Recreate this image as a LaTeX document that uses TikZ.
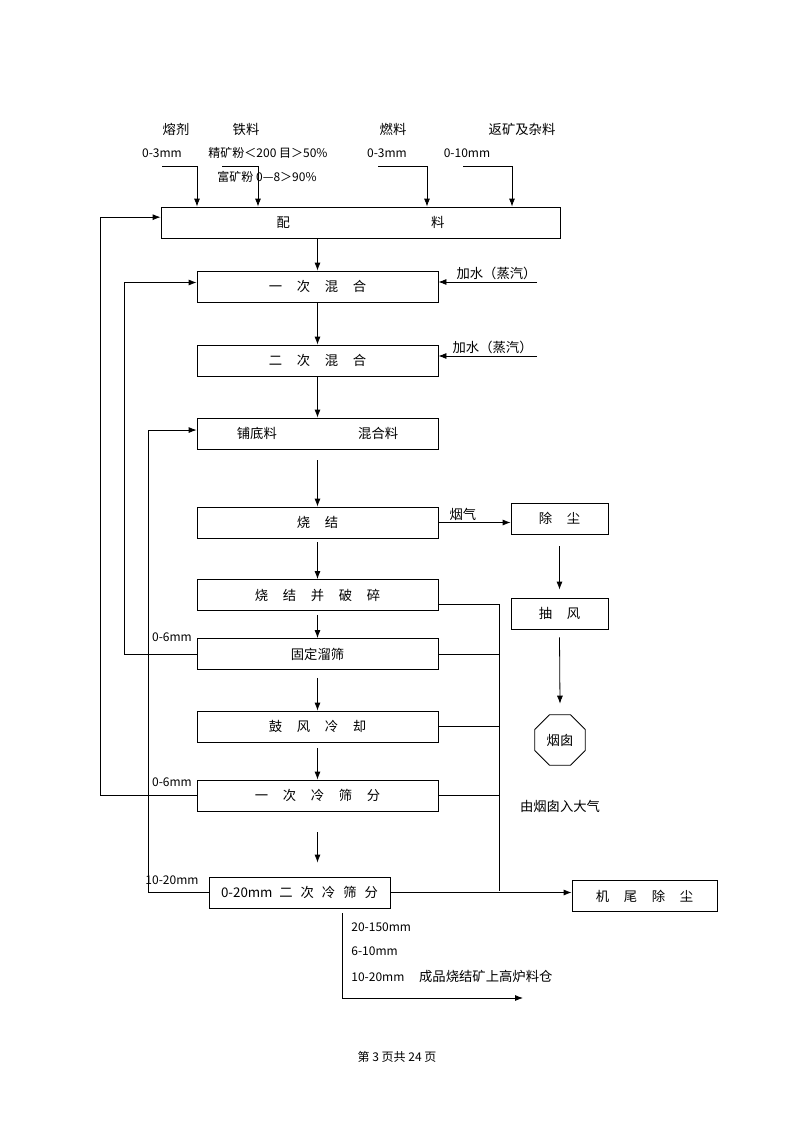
\documentclass[tikz,border=0pt]{standalone}
\usepackage{fontspec}
\setmainfont{Liberation Serif}
\newfontfamily\cjk{Noto Sans CJK SC}
\usetikzlibrary{calc, positioning, arrows, arrows.meta, shapes, shapes.geometric}
\newcommand{\kg}{\hspace{11pt}}

\begin{document}
\begin{tikzpicture}[x=0.75pt, y=-0.75pt, >={Latex[length=6pt, width=4.5pt]}, line width=0.6pt,
        font=\cjk\fontsize{10}{12}\selectfont,
        box/.style={draw, rectangle, minimum width=180.75pt, minimum height=23.25pt, inner sep=0pt},
        lbl/.style={inner sep=0pt, font=\cjk\fontsize{9}{11}\selectfont}]
        \useasboundingbox (0,0) rectangle (800,1132);

        % main column
        \node[box, minimum width=299.25pt] (PL) at (360.5,222.5) {配\hspace{106pt}料};
        \node[box] (H1) at (317.5,286.5) {一\kg 次\kg 混\kg 合};
        \node[box] (H2) at (317.5,360.5) {二\kg 次\kg 混\kg 合};
        \node[box] (PD) at (317.5,433.5) {铺底料\hspace{61pt}混合料};
        \node[box] (SJ) at (317.5,522.5) {烧\kg 结};
        \node[box] (PS) at (317.5,595) {烧\kg 结\kg 并\kg 破\kg 碎};
        \node[box] (GS) at (317.5,654) {固定溜筛};
        \node[box] (GF) at (317.5,726.5) {鼓\kg 风\kg 冷\kg 却};
        \node[box] (LS1) at (317.5,795.5) {一\kg 次\kg 冷\kg 筛\kg 分};
        \node[box, minimum width=135.75pt] (LS2) at (299.5,892.5) {0-20mm\hspace{5pt}二\hspace{6pt}次\hspace{6pt}冷\hspace{6pt}筛\hspace{6pt}分};

        % right side
        \node[box, minimum width=72.75pt] (CC) at (559.5,518.5) {除\kg 尘};
        \node[box, minimum width=72.75pt] (CF) at (559.5,613.5) {抽\kg 风};
        \node[draw, regular polygon, regular polygon sides=8, minimum size=41pt, inner sep=0pt] (YC) at (560,740) {烟囱};
        \node (DQ) at (560,806) {由烟囱入大气};
        \node[box, minimum width=108.75pt] (JW) at (644.5,896) {机\kg 尾\kg 除\kg 尘};

        % raw materials
        \node[lbl, font=\cjk\fontsize{10}{12}\selectfont] (RJ) at (176,129) {熔剂};
        \node[lbl, font=\cjk\fontsize{10}{12}\selectfont] (TL) at (246,129) {铁料};
        \node[lbl, font=\cjk\fontsize{10}{12}\selectfont] (RL) at (393,129) {燃料};
        \node[lbl, font=\cjk\fontsize{10}{12}\selectfont] (FK) at (522,129) {返矿及杂料};
        \node[lbl] (RJs) at (162,153) {0-3mm};
        \node[lbl] (TLs) at (268,153) {精矿粉＜200 目＞50\%};
        \node[lbl] (TLf) at (267,177) {富矿粉 0—8＞90\%};
        \node[lbl] (RLs) at (387,153) {0-3mm};
        \node[lbl] (FKs) at (467,153) {0-10mm};

        \coordinate (in1) at (162,166);
        \coordinate (in2) at (222,166);
        \coordinate (in3) at (378,166);
        \coordinate (in4) at (463,166);
        \draw[->] (in1) -| (PL.north -| 197,0);
        \draw[->] (in2) -| (PL.north -| 258,0);
        \draw[->] (in3) -| (PL.north -| 427,0);
        \draw[->] (in4) -| (PL.north -| 512,0);

        % main flow
        \draw (PL.south -| H1.north) edge[->] (H1.north);
        \draw (H1.south) edge[->] (H2.north);
        \draw (H2.south) edge[->] (PD.north);
        \draw ([yshift=-8pt]PD.south) edge[->] (SJ.north);
        \draw ([yshift=-3pt]SJ.south) edge[->] (PS.north);
        \draw ([yshift=-3pt]PS.south) edge[->] (GS.north);
        \draw ([yshift=-6pt]GS.south) edge[->] (GF.north);
        \draw ([yshift=-4.5pt]GF.south) edge[->] (LS1.north);
        \draw ([yshift=-15.75pt]LS1.south) edge[->] ([yshift=10.5pt]LS1.south |- LS2.north);

        % water
        \coordinate (w1) at (537,282);
        \coordinate (w2) at (537,356);
        \draw[->] (w1) -- (w1 -| H1.east) node[lbl, pos=0.41, above=1pt, font=\cjk\fontsize{10}{12}\selectfont] {加水（蒸汽）};
        \draw[->] (w2) -- (w2 -| H2.east) node[lbl, pos=0.45, above=1pt, font=\cjk\fontsize{10}{12}\selectfont] {加水（蒸汽）};

        % returns
        \draw[->] (LS1.west) -- ++(-96,0) |- ([yshift=4pt]PL.west);
        \draw[->] (GS.west) -- ++(-72,0) |- ([yshift=3pt]H1.west);
        \draw[->] (LS2.west) -- ++(-60,0) |- ([yshift=2.6pt]PD.west);
        \node[lbl] (R1) at (172,782) {0-6mm};
        \node[lbl] (R2) at (172,637) {0-6mm};
        \node[lbl] (R3) at (172,880) {10-20mm};

        % flue gas
        \draw[->] (SJ.east) -- (SJ.east -| CC.west) node[lbl, pos=0.34, above=1pt, font=\cjk\fontsize{10}{12}\selectfont] {烟气};
        \draw ([yshift=-9pt]CC.south) edge[->] ([yshift=6pt]CF.north);
        \draw ([yshift=-6pt]CF.south) edge[->] ([yshift=8pt]YC.north);

        % tail dust
        \coordinate (jw) at (499,891);
        \draw ([yshift=-6.75pt]PS.east) -| (jw);
        \draw (GS.east) -- (GS.east -| jw);
        \draw (GF.east) -- (GF.east -| jw);
        \draw (LS1.east) -- (LS1.east -| jw);
        \draw[->] (LS2.east) -- (LS2.east -| JW.west);

        % product
        \coordinate (cp) at (523,998);
        \draw[->] ([shift={(31.9pt,-3.75pt)}]LS2.south) |- (cp);
        \node[lbl, anchor=west] (P1) at (351,927) {20-150mm};
        \node[lbl, anchor=west] (P2) at (351,951) {6-10mm};
        \node[lbl, anchor=west] (P3) at (351,976) {10-20mm\hspace{11pt}{\fontsize{10}{12}\selectfont 成品烧结矿上高炉料仓}};

        \node[lbl] (pg) at (397,1057) {第 3 页共 24 页};
    \end{tikzpicture}
\end{document}
